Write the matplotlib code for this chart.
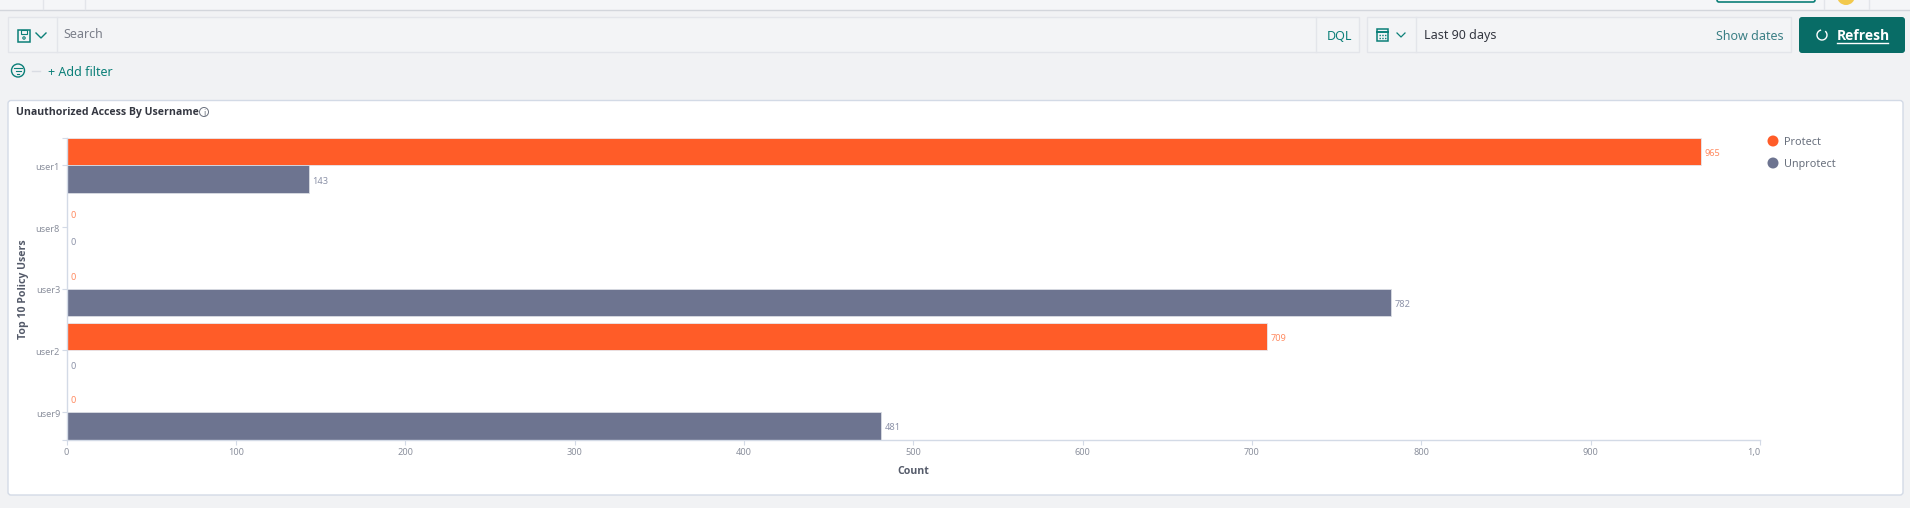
import numpy as np
import matplotlib
matplotlib.use("Agg")
import matplotlib.pyplot as plt
from matplotlib.patches import Rectangle, FancyBboxPatch, Circle, Arc
from matplotlib.transforms import ScaledTranslation

plt.rcParams['font.family'] = ['Noto Sans', 'DejaVu Sans']
BOLD_FONT = ['Open Sans', 'DejaVu Sans']

users = ["user1", "user8", "user3", "user2", "user9"]
protect = [965, 0, 0, 709, 0]
unprotect = [143, 0, 782, 0, 481]
x_ticks = [0, 100, 200, 300, 400, 500, 600, 700, 800, 900, 1000]
x_tick_labels = ["0", "100", "200", "300", "400", "500", "600", "700", "800", "900", "1,0"]

W, H = 1910, 508
BG = "#F1F2F4"
TEAL = "#0B7F78"
DARK = "#343741"
EDGE = "#E3E5EA"
ORANGE = "#FF5C28"
GRAY = "#6D7490"

fig = plt.figure(figsize=(W / 100, H / 100), dpi=100, facecolor=BG)

# page chrome, drawn in pixel coordinates
ui = fig.add_axes([0, 0, 1, 1], zorder=0)
ui.set_xlim(0, W)
ui.set_ylim(H, 0)
ui.axis("off")


def box(x0, y0, x1, y1, fc, ec=EDGE, lw=1.0):
    ui.add_patch(Rectangle((x0, y0), x1 - x0, y1 - y0, fc=fc, ec=ec, lw=lw))


def vline(x, y0, y1, color=EDGE):
    ui.plot([x, x], [y0, y1], color=color, lw=1)


def label(x, y, s, size=9, color=DARK, **kw):
    kw.setdefault("va", "center_baseline")
    return ui.text(x, y, s, fontsize=size, color=color, **kw)


# top strip
box(-2, -2, W + 2, 9.5, "#F5F6F8", "#D3D6DC")
vline(42.5, 0, 9)
vline(85, 0, 9)
vline(1824, 0, 9)
vline(1869, 0, 9)
ui.add_patch(FancyBboxPatch((1717, -8), 98, 10, boxstyle="round,pad=0,rounding_size=2",
                            fc="#F5F6F8", ec=TEAL, lw=1.2))
ui.add_patch(Circle((1846, -4), 9, fc="#F2C94C", ec="none"))

# search bar
box(7.5, 17, 1358.5, 52, "#F3F4F6")
vline(56.5, 17, 52)
vline(1316, 17, 52)
label(63, 33.5, "Search", 9, "#7B7F8A")
label(1327, 34.5, "DQL", 9, TEAL)

# save icon
ui.add_patch(Rectangle((18, 30), 12, 12, fc="none", ec=TEAL, lw=1.1))
ui.add_patch(Rectangle((21, 30), 6, 4, fc="none", ec=TEAL, lw=0.8))
ui.add_patch(Circle((24, 38), 1.2, fc="none", ec=TEAL, lw=0.8))
ui.plot([36, 41, 46], [33, 38, 33], color=TEAL, lw=1)

# date picker
box(1367, 17, 1791, 52, "#F3F4F6")
vline(1416, 17, 52)
ui.add_patch(Rectangle((1377, 29), 11, 12, fc="none", ec=TEAL, lw=1.1))
ui.plot([1377, 1388], [32, 32], color=TEAL, lw=1.4)
for gy in [35, 38]:
    ui.plot([1379, 1386], [gy, gy], color=TEAL, lw=1, ls=(0, (1, 1)))
ui.plot([1397, 1401, 1405], [33, 37, 33], color=TEAL, lw=0.9)
label(1424, 34.5, "Last 90 days", 9, DARK)
label(1716, 34.5, "Show dates", 9, "#3B7F85")

# refresh button
ui.add_patch(FancyBboxPatch((1799, 17), 106, 36, boxstyle="round,pad=0,rounding_size=3",
                            fc="#086C66", ec="none"))
ui.add_patch(Arc((1822, 35), 10, 10, theta1=-50, theta2=260, ec="white", lw=1))
label(1837, 35, "Refresh", 10, "white", fontweight="bold", family=BOLD_FONT)
ui.plot([1837, 1888], [43, 43], color="white", lw=1)

# filter row
ui.add_patch(Circle((18, 70.5), 6.5, fc="none", ec=TEAL, lw=1))
ui.plot([14, 22], [68, 68], color=TEAL, lw=0.8)
ui.plot([15.5, 20.5], [71, 71], color=TEAL, lw=0.8)
ui.plot([17, 19], [74, 74], color=TEAL, lw=0.8)
ui.plot([32, 40], [70.5, 70.5], color="#D9DCE3", lw=1)
label(48, 70.5, "+ Add filter", 9, TEAL)

# panel
ui.add_patch(FancyBboxPatch((8, 100.5), 1895, 394.5, boxstyle="round,pad=0,rounding_size=3",
                            fc="white", ec="#D3DAE6", lw=1))
label(15.5, 111, "Unauthorized Access By Username", 7.6, "#343741", fontweight="bold", family=BOLD_FONT)
ui.add_patch(Circle((204, 112), 4.5, fc="none", ec="#69707D", lw=0.7))
label(204, 112, "i", 6, "#69707D", ha="center")

# legend
ui.add_patch(Circle((1773, 141), 5.5, fc=ORANGE, ec="none"))
ui.add_patch(Circle((1773, 163), 5.5, fc=GRAY, ec="none"))
label(1784, 141, "Protect", 7.8, "#69707D")
label(1784, 163, "Unprotect", 7.8, "#69707D")

# chart axes, placed so the ticks land on the panel's pixels
left, right, top, bottom = 66.5, 1760, 138, 439.5
ax = fig.add_axes([left / W, 1 - bottom / H, (right - left) / W, (bottom - top) / H], zorder=1)
ax.patch.set_alpha(0)

y = np.arange(len(users))
bar_h = 0.445
bars1 = ax.barh(y - bar_h / 2, protect, bar_h, color=ORANGE, edgecolor="#E6E8EE", linewidth=0.6)
bars2 = ax.barh(y + bar_h / 2, unprotect, bar_h, color=GRAY, edgecolor="#D9DCE3", linewidth=0.6)
for t in ax.bar_label(bars1, padding=2.6, fontsize=6.6, color="#FF8A60"):
    t.set_va("center_baseline")
    t.xyann = (2.6, -0.8)
for t in ax.bar_label(bars2, padding=2.6, fontsize=6.6, color="#8C92A8"):
    t.set_va("center_baseline")
    t.xyann = (2.6, -0.8)

ax.set_xlim(0, 1000)
ax.set_ylim(4.445, -0.445)
ax.set_yticks(y)
ax.set_yticklabels(users, va="center_baseline")
ax.set_yticks([-0.445, 4.445], minor=True)
ax.set_xticks(x_ticks)
ax.set_xticklabels(x_tick_labels)
ax.get_xticklabels()[-1].set_ha("right")

ax.tick_params(axis="both", which="both", color="#D3DAE6", width=0.8, length=3.6,
               labelsize=6.6, labelcolor="#8A8F9C", pad=1)
ax.tick_params(axis="x", pad=2.4)
nudge = ScaledTranslation(0, -1 / 100, fig.dpi_scale_trans)
for t in ax.get_yticklabels():
    t.set_transform(t.get_transform() + nudge)
for side in ["top", "right"]:
    ax.spines[side].set_visible(False)
for side in ["left", "bottom"]:
    ax.spines[side].set_color("#D3DAE6")
    ax.spines[side].set_linewidth(1)

label(913.5, 469.5, "Count", 7.6, "#545A69", ha="center", fontweight="bold", family=BOLD_FONT)
label(23.5, 289, "Top 10 Policy Users", 7.6, "#545A69", ha="center", va="center", rotation=90,
      fontweight="bold", family=BOLD_FONT)

fig.savefig("out.png", dpi=100, facecolor=BG)
